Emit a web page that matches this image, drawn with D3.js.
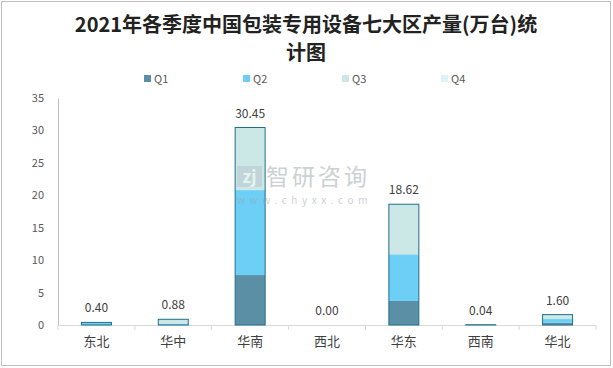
<!DOCTYPE html>
<html><head><meta charset="utf-8">
<script src="https://cdn.jsdelivr.net/npm/d3@7"></script>
<style>body{margin:0;background:#fff}svg{display:block}</style>
</head><body>
<svg id="c" width="613" height="368"></svg>
<script>
const categories = ["东北","华中","华南","西北","华东","西南","华北"];
const seriesNames = ["Q1","Q2","Q3","Q4"];
const q1 = [0.00, 0.02, 7.70, 0.00, 3.70, 0.02, 0.35];
const q2 = [0.35, 0.21, 13.10, 0.00, 7.20, 0.02, 0.57];
const q3 = [0.05, 0.65, 9.65, 0.00, 7.72, 0.00, 0.68];
const q4 = [0.00, 0.00, 0.00, 0.00, 0.00, 0.00, 0.00];
const totals = ["0.40","0.88","30.45","0.00","18.62","0.04","1.60"];
const yTicks = [0,5,10,15,20,25,30,35];
const colors = ["#5b8fa6","#6dcff6","#cce8e6","#dff1f9"];

const svg = d3.select("#c");
const font = "'Noto Sans CJK SC','Noto Sans',sans-serif";
svg.append("rect").attr("x",1.5).attr("y",1.5).attr("width",609).attr("height",364)
  .attr("fill","#fff").attr("stroke","#bfbfbf");

const m = {l:58, r:596, t:98, b:325};
const x = d3.scaleBand().domain(categories).range([m.l, m.r]).paddingInner(0.61).paddingOuter(0.305);
const y = d3.scaleLinear().domain([0,35]).range([m.b, m.t]);

// title
const title = svg.append("text").attr("text-anchor","middle").attr("fill","#222")
  .style("font-family","'Noto Sans CJK SC',serif").style("font-weight","bold").style("font-size","20px");
title.append("tspan").attr("x",306).attr("y",32).text("2021年各季度中国包装专用设备七大区产量(万台)统");
title.append("tspan").attr("x",306).attr("y",60).text("计图");

// legend
const lx = [144,243,342,441];
seriesNames.forEach((s,i)=>{
  svg.append("rect").attr("x",lx[i]).attr("y",75).attr("width",7).attr("height",7).attr("fill",colors[i]);
  svg.append("text").attr("x",lx[i]+10).attr("y",83).text(s).attr("fill","#595959")
    .style("font-family",font).style("font-size","11px");
});

// y axis
const ya = svg.append("g").attr("transform",`translate(${m.l},0)`)
  .call(d3.axisLeft(y).tickValues(yTicks).tickSize(0).tickPadding(14));
ya.select(".domain").attr("stroke","#bfbfbf");
ya.selectAll("text").attr("fill","#595959").style("font-family",font).style("font-size","11px");

// x axis
const xa = svg.append("g").attr("transform",`translate(0,${m.b})`)
  .call(d3.axisBottom(x).tickSize(0).tickPadding(12));
xa.select(".domain").attr("stroke","#d9d9d9");
xa.selectAll("text").attr("fill","#404040").style("font-family",font).style("font-size","13px");
const step = x.step();
const sepX = d3.range(categories.length+1).map(i=>m.l + i*step);
svg.append("g").selectAll("line").data(sepX).join("line")
  .attr("x1",d=>d).attr("x2",d=>d).attr("y1",m.b).attr("y2",m.b+5).attr("stroke","#d9d9d9");

// stacked bars
const rows = categories.map((c,i)=>({cat:c, Q1:q1[i], Q2:q2[i], Q3:q3[i], Q4:q4[i]}));
const stack = d3.stack().keys(seriesNames)(rows);
stack.forEach((layer,k)=>{
  svg.append("g").selectAll("rect").data(layer).join("rect")
    .attr("x",d=>x(d.data.cat)).attr("width",x.bandwidth())
    .attr("y",d=>y(d[1])).attr("height",d=>Math.max(0,y(d[0])-y(d[1])))
    .attr("fill",colors[k]);
});
// outline
svg.append("g").selectAll("rect").data(rows).join("rect")
  .attr("x",d=>x(d.cat)).attr("width",x.bandwidth())
  .attr("y",d=>y(d.Q1+d.Q2+d.Q3+d.Q4))
  .attr("height",d=>Math.max(0,y(0)-y(d.Q1+d.Q2+d.Q3+d.Q4)))
  .attr("fill","none").attr("stroke","#1f6f8b").attr("stroke-width",1);

// value labels
svg.append("g").selectAll("text").data(rows).join("text")
  .attr("x",d=>x(d.cat)+x.bandwidth()/2)
  .attr("y",d=>y(d.Q1+d.Q2+d.Q3+d.Q4)-10)
  .attr("text-anchor","middle").text((d,i)=>totals[i])
  .attr("fill","#404040").style("font-family",font).style("font-size","12px");

// watermark (on top, translucent)
const wm = svg.append("g").attr("opacity",0.5);
wm.append("rect").attr("x",237).attr("y",166).attr("width",25).attr("height",21).attr("fill","#b8c4cc");
wm.append("text").attr("x",249.5).attr("y",183).attr("text-anchor","middle").text("zj").attr("fill","#fff")
  .style("font-family",font).style("font-size","17px").style("font-weight","bold");
wm.append("text").attr("x",266).attr("y",185).text("智研咨询").attr("fill","#9aa4aa")
  .style("font-family",font).style("font-size","23px").attr("letter-spacing","3px");
wm.append("text").attr("x",237).attr("y",204).text("www.chyxx.com").attr("fill","#9aa4aa")
  .style("font-family",font).style("font-size","10px").attr("letter-spacing","4.6px");
</script>
</body></html>
